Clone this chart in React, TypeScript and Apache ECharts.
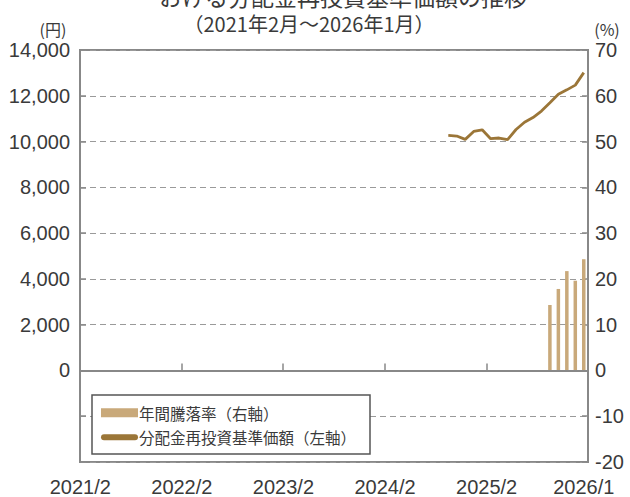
import React, { useEffect, useRef } from "react";
import * as echarts from "echarts";

const months: string[] = [];
for (let y = 2021; y <= 2026; y++) {
  for (let m = 1; m <= 12; m++) {
    if ((y === 2021 && m < 2) || (y === 2026 && m > 1)) continue;
    months.push(`${y}/${m}`);
  }
}

// 分配金再投資基準価額（円）: data from 2024/9 to 2026/1
const navStartIndex = 43;
const navValues = [
  10267, 10241, 10095, 10440, 10513, 10125, 10155, 10082, 10526, 10845,
  11047, 11332, 11698, 12065, 12259, 12466, 13013,
];

// 年間騰落率（%）: data from 2025/8 to 2026/1
const returnStartIndex = 55;
const returnValues = [14.3, 17.8, 21.7, 19.6, 24.3];

const leftTicks = { min: -4000, max: 14000, interval: 2000 };
const rightTicks = { min: -20, max: 70, interval: 10 };

const titleText = "おける分配金再投資基準価額の推移";
const subtitleText = "（2021年2月～2026年1月）";
const barName = "年間騰落率（右軸）";
const lineName = "分配金再投資基準価額（左軸）";

const FONT = "'Liberation Sans', Arial, 'Noto Sans CJK JP', sans-serif";
const JFONT = "'Noto Sans CJK JP', sans-serif";
const TEXT = "#3a3a3a";
const FRAME = "#888888";
const BAR = "#c9a97a";
const LINE = "#9b7638";

export default function App() {
  const ref = useRef<HTMLDivElement>(null);
  useEffect(() => {
    if (!ref.current) return;
    const chart = echarts.init(ref.current, undefined, { renderer: "svg" });
    const navSeries = months.map((_, i) =>
      i >= navStartIndex && i < navStartIndex + navValues.length ? navValues[i - navStartIndex] : null
    );
    const retSeries = months.map((_, i) =>
      i >= returnStartIndex && i < returnStartIndex + returnValues.length
        ? returnValues[i - returnStartIndex]
        : null
    );
    const lastIdx = months.length - 1;
    chart.setOption({
      animation: false,
      backgroundColor: "#ffffff",
      textStyle: { fontFamily: FONT },
      grid: {
        left: 80,
        right: 42,
        top: 50,
        bottom: 29,
        show: true,
        borderColor: FRAME,
        borderWidth: 2,
        backgroundColor: "transparent",
      },
      graphic: [
        {
          type: "text",
          x: 343,
          y: -16,
          style: {
            text: titleText,
            fontSize: 23,
            fontFamily: JFONT,
            fill: TEXT,
            align: "center",
            verticalAlign: "top",
          },
        },
        {
          type: "text",
          x: 309,
          y: 23,
          style: {
            text: subtitleText,
            fontSize: 20,
            fontFamily: JFONT,
            fill: TEXT,
            align: "center",
            verticalAlign: "middle",
          },
        },
        {
          type: "text",
          x: 53,
          y: 29,
          style: {
            text: "(円)",
            fontSize: 16,
            fontFamily: JFONT,
            fill: TEXT,
            align: "center",
            verticalAlign: "middle",
          },
        },
        {
          type: "text",
          x: 607,
          y: 29,
          style: {
            text: "(%)",
            fontSize: 16,
            fontFamily: JFONT,
            fill: TEXT,
            align: "center",
            verticalAlign: "middle",
          },
        },
      ],
      legend: {
        orient: "vertical",
        left: 92,
        top: 395,
        padding: [10, 14, 9, 9],
        itemGap: 9,
        itemWidth: 37,
        itemHeight: 9,
        backgroundColor: "#ffffff",
        borderColor: "#555555",
        borderWidth: 1.5,
        borderRadius: 0,
        textStyle: { fontSize: 15.5, fontFamily: JFONT, color: TEXT, padding: [0, 0, 0, -4] },
        data: [
          { name: barName, icon: "rect" },
          {
            name: lineName,
            icon: "path://M3,0 L34,0 A3,3 0 0 1 34,6 L3,6 A3,3 0 0 1 3,0 Z",
          },
        ],
      },
      xAxis: {
        type: "category",
        data: months,
        boundaryGap: true,
        axisLine: { show: true, lineStyle: { color: FRAME, width: 2 } },
        axisTick: {
          show: true,
          inside: true,
          length: 7,
          alignWithLabel: false,
          interval: (i: number) => i % 12 === 0,
          lineStyle: { color: FRAME, width: 1.5 },
        },
        axisLabel: {
          show: true,
          interval: (i: number) => i % 12 === 0 || i === lastIdx,
          margin: 15,
          color: TEXT,
          fontSize: 20,
          fontFamily: FONT,
          formatter: (v: string, i: number) => (i === lastIdx ? `{e|${v}}` : `{s|${v}}`),
          rich: {
            s: { fontSize: 20, fontFamily: FONT, color: TEXT, padding: [0, 8, 0, 0] },
            e: { fontSize: 20, fontFamily: FONT, color: TEXT },
          },
        },
        splitLine: { show: false },
      },
      yAxis: [
        {
          type: "value",
          min: leftTicks.min,
          max: leftTicks.max,
          interval: leftTicks.interval,
          position: "left",
          axisLine: { show: true, lineStyle: { color: FRAME, width: 2 } },
          axisTick: { show: true, inside: true, length: 6, lineStyle: { color: FRAME, width: 1.5 } },
          axisLabel: {
            color: TEXT,
            fontSize: 20,
            fontFamily: FONT,
            margin: 10,
            formatter: (v: number) => (v < 0 ? "" : v.toLocaleString("en-US")),
          },
          splitLine: { show: true, lineStyle: { color: "#9a9a9a", width: 1.2, type: [6, 4] } },
        },
        {
          type: "value",
          min: rightTicks.min,
          max: rightTicks.max,
          interval: rightTicks.interval,
          position: "right",
          axisLine: { show: true, lineStyle: { color: FRAME, width: 2 } },
          axisTick: { show: true, inside: true, length: 6, lineStyle: { color: FRAME, width: 1.5 } },
          axisLabel: { color: TEXT, fontSize: 20, fontFamily: FONT, margin: 7 },
          splitLine: { show: false },
        },
      ],
      series: [
        {
          name: barName,
          type: "bar",
          yAxisIndex: 1,
          data: retSeries,
          barWidth: 3.5,
          itemStyle: { color: BAR },
          z: 3,
        },
        {
          name: lineName,
          type: "line",
          yAxisIndex: 0,
          data: navSeries,
          showSymbol: false,
          symbol: "none",
          connectNulls: false,
          itemStyle: { color: LINE },
          lineStyle: { color: LINE, width: 2.8 },
          z: 4,
          markLine: {
            silent: true,
            symbol: "none",
            label: { show: false },
            lineStyle: { color: FRAME, width: 2, type: "solid" },
            data: [{ yAxis: 0 }],
          },
        },
      ],
    });
    return () => chart.dispose();
  }, []);
  return (
    <div
      ref={ref}
      style={{ position: "fixed", left: 0, top: 0, width: 630, height: 497, background: "#fff" }}
    />
  );
}
